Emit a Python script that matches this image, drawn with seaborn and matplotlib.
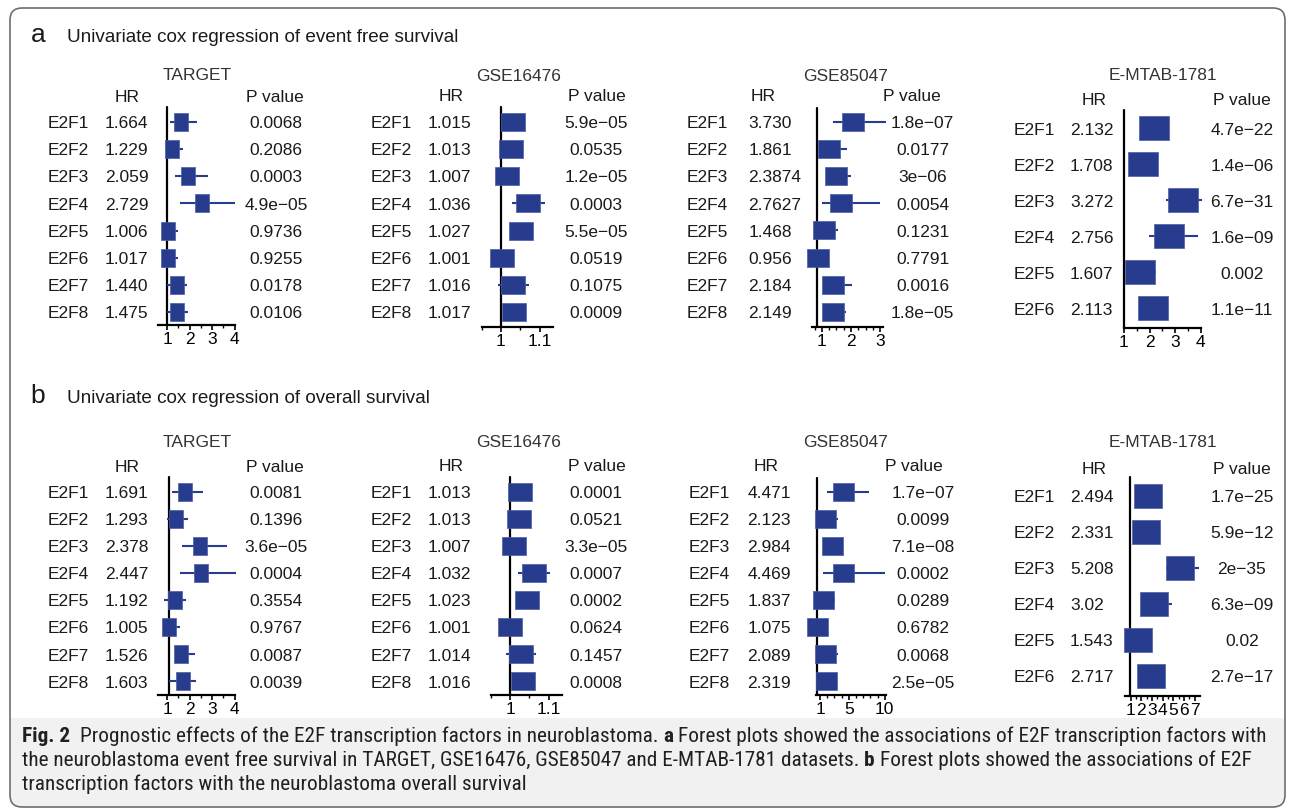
import numpy as np
import pandas as pd
import matplotlib
matplotlib.use("Agg")
import matplotlib.pyplot as plt
import seaborn as sns
from matplotlib import font_manager
from matplotlib.patches import FancyBboxPatch, Rectangle

genes = ["E2F1", "E2F2", "E2F3", "E2F4", "E2F5", "E2F6", "E2F7", "E2F8"]

# a: event free survival  (hr / p are the printed columns, box/lo/hi)
efs_target_hr = ["1.664", "1.229", "2.059", "2.729", "1.006", "1.017", "1.440", "1.475"]
efs_target_p = ["0.0068", "0.2086", "0.0003", "4.9e-05", "0.9736", "0.9255", "0.0178", "0.0106"]
efs_target_box = [1.61, 1.24, 1.95, 2.54, 1.04, 1.06, 1.43, 1.46]
efs_target_lo = [1.13, 0.95, 1.36, 1.58, 0.80, 0.80, 1.00, 1.00]
efs_target_hi = [2.32, 1.70, 2.84, 4.02, 1.48, 1.48, 1.90, 1.95]

efs_g16_hr = ["1.015", "1.013", "1.007", "1.036", "1.027", "1.001", "1.016", "1.017"]
efs_g16_p = ["5.9e-05", "0.0535", "1.2e-05", "0.0003", "5.5e-05", "0.0519", "0.1075", "0.0009"]
efs_g16_box = [1.030, 1.026, 1.015, 1.071, 1.053, 1.002, 1.031, 1.034]
efs_g16_lo = [1.015, 1.012, 1.000, 1.028, 1.040, 0.990, 0.991, 1.020]
efs_g16_hi = [1.045, 1.040, 1.030, 1.115, 1.066, 1.015, 1.073, 1.048]

efs_g85_hr = ["3.730", "1.861", "2.3874", "2.7627", "1.468", "0.956", "2.184", "2.149"]
efs_g85_p = ["1.8e-07", "0.0177", "3e-06", "0.0054", "0.1231", "0.7791", "0.0016", "1.8e-05"]
efs_g85_box = [2.08, 1.25, 1.50, 1.67, 1.07, 0.845, 1.385, 1.385]
efs_g85_lo = [1.39, 0.95, 1.20, 0.99, 0.80, 0.70, 1.10, 1.10]
efs_g85_hi = [3.21, 1.85, 2.00, 3.00, 1.54, 1.00, 2.05, 1.82]

efs_emtab_hr = ["2.132", "1.708", "3.272", "2.756", "1.607", "2.113"]
efs_emtab_p = ["4.7e-22", "1.4e-06", "6.7e-31", "1.6e-09", "0.002", "1.1e-11"]
efs_emtab_box = [2.17, 1.73, 3.31, 2.77, 1.62, 2.14]
efs_emtab_lo = [1.90, 1.50, 2.65, 1.96, 1.30, 1.90]
efs_emtab_hi = [2.45, 2.00, 4.06, 3.91, 2.25, 2.40]

# b: overall survival
os_target_hr = ["1.691", "1.293", "2.378", "2.447", "1.192", "1.005", "1.526", "1.603"]
os_target_p = ["0.0081", "0.1396", "3.6e-05", "0.0004", "0.3554", "0.9767", "0.0087", "0.0039"]
os_target_box = [1.80, 1.38, 2.45, 2.52, 1.36, 1.07, 1.60, 1.69]
os_target_lo = [1.21, 0.99, 1.65, 1.58, 0.88, 0.85, 1.35, 1.09]
os_target_hi = [2.59, 1.92, 3.65, 4.07, 1.84, 1.56, 2.24, 2.29]

os_g16_hr = ["1.013", "1.013", "1.007", "1.032", "1.023", "1.001", "1.014", "1.016"]
os_g16_p = ["0.0001", "0.0521", "3.3e-05", "0.0007", "0.0002", "0.0624", "0.1457", "0.0008"]
os_g16_box = [1.026, 1.023, 1.011, 1.061, 1.045, 0.999, 1.029, 1.034]
os_g16_lo = [1.010, 1.010, 1.000, 1.0215, 1.030, 0.985, 0.990, 1.020]
os_g16_hi = [1.040, 1.035, 1.025, 1.103, 1.060, 1.012, 1.066, 1.048]

os_g85_hr = ["4.471", "2.123", "2.984", "4.469", "1.837", "1.075", "2.089", "2.319"]
os_g85_p = ["1.7e-07", "0.0099", "7.1e-08", "0.0002", "0.0289", "0.6782", "0.0068", "2.5e-05"]
os_g85_box = [4.17, 1.69, 2.69, 4.19, 1.46, 0.58, 1.69, 1.84]
os_g85_lo = [1.93, 1.00, 1.60, 1.46, 0.80, 0.40, 1.00, 1.00]
os_g85_hi = [7.85, 3.55, 4.24, 10.0, 3.08, 1.50, 3.50, 3.00]

os_emtab_hr = ["2.494", "2.331", "5.208", "3.02", "1.543", "2.717"]
os_emtab_p = ["1.7e-25", "5.9e-12", "2e-35", "6.3e-09", "0.02", "2.7e-17"]
os_emtab_box = [2.64, 2.48, 5.65, 3.24, 1.74, 2.92]
os_emtab_lo = [2.20, 2.00, 4.29, 2.50, 1.30, 2.50]
os_emtab_hi = [3.10, 2.90, 7.43, 4.85, 2.20, 3.40]

W, H = 1292, 810
BLUE = "#283c8e"
TXT = "#1a1a1a"
FS = 12.5

sns.set_theme(style="ticks")
plt.rcParams["font.family"] = ["Liberation Sans", "DejaVu Sans"]

fig = plt.figure(figsize=(W / 100, H / 100), dpi=100)
bg = fig.add_axes([0, 0, 1, 1])
bg.set_xlim(0, W)
bg.set_ylim(H, 0)
bg.axis("off")


def put(x, yc, s, size=FS, ha="left", color=TXT, **kw):
    # yc is the visual centre of capitals, in pixels from the top
    return bg.text(x, yc + 0.358 * size * 100 / 72, s, fontsize=size, ha=ha,
                   va="baseline", color=color, **kw)


# frame + caption band
bg.add_patch(FancyBboxPatch((10.5, 700), 1274, 107, boxstyle="round,pad=0,rounding_size=12",
                            fc="#f1f1f2", ec="none", zorder=0))
bg.add_patch(Rectangle((11, 690), 1273, 28, fc="white", ec="none", zorder=0.5))
bg.add_patch(FancyBboxPatch((10, 8), 1275, 799, boxstyle="round,pad=0,rounding_size=12",
                            fc="none", ec="#6e6e6e", lw=1.2, zorder=1))

# section headings
bg.text(30.5, 41.7, "a", fontsize=19, color=TXT, va="baseline")
bg.text(66.7, 41.7, "Univariate cox regression of event free survival", fontsize=13.6, color=TXT, va="baseline")
bg.text(30.5, 403.3, "b", fontsize=19, color=TXT, va="baseline")
bg.text(66.7, 403.3, "Univariate cox regression of overall survival", fontsize=13.6, color=TXT, va="baseline")

col_target = dict(name_x=197, hr_head_x=127, p_head_x=275, lab_x=48, hr_x=105, p_x=276)
col_g16 = dict(name_x=519, hr_head_x=450.7, p_head_x=596.7, lab_x=370.7, hr_x=427.7, p_x=596.2)
col_emtab = dict(name_x=1162.7, hr_head_x=1094, p_head_x=1242.3, lab_x=1013.7, hr_x=1070, p_x=1242)

panels = [
    dict(name="TARGET", **col_target, title_y=74, head_y=96, y0=121.7, dy=27.2, vtop=107, axis_y=325,
         ax_lr=(158, 235), xlim=(0.6, 4.02), vline=1.0, major=[1, 2, 3, 4], labels=["1", "2", "3", "4"],
         minor=[1.5, 2.5, 3.5], box=(13.5, 17.5),
         data=(efs_target_hr, efs_target_p, efs_target_box, efs_target_lo, efs_target_hi)),
    dict(name="GSE16476", **col_g16, title_y=75, head_y=95, y0=121.7, dy=27.2, vtop=106.7, axis_y=326.7,
         ax_lr=(481.7, 552.7), xlim=(0.951, 1.134), vline=1.0, major=[1, 1.1], labels=["1", "1.1"],
         minor=[0.95, 1.05], box=(23.3, 18.3),
         data=(efs_g16_hr, efs_g16_p, efs_g16_box, efs_g16_lo, efs_g16_hi)),
    dict(name="GSE85047", name_x=845.7, hr_head_x=762.7, p_head_x=911.7, lab_x=686.7, hr_x=748.3, p_x=922.7,
         title_y=75, head_y=95, y0=121.7, dy=27.2, vtop=108.3, axis_y=326.7,
         ax_lr=(811.7, 882.7), xlim=(0.645, 3.093), vline=0.817, major=[1, 2, 3], labels=["1", "2", "3"],
         minor=[0.75, 1.25, 1.5, 1.75, 2.25, 2.5, 2.75], box=(21.7, 17.7),
         data=(efs_g85_hr, efs_g85_p, efs_g85_box, efs_g85_lo, efs_g85_hi)),
    dict(name="E-MTAB-1781", **col_emtab, title_y=74, head_y=98.3, y0=128.3, dy=36, vtop=110, axis_y=328.3,
         ax_lr=(1124, 1200.7), xlim=(1.0, 4.0), vline=1.0, major=[1, 2, 3, 4], labels=["1", "2", "3", "4"],
         minor=[1.5, 2.5, 3.5], box=(29.3, 23.3),
         data=(efs_emtab_hr, efs_emtab_p, efs_emtab_box, efs_emtab_lo, efs_emtab_hi)),
    dict(name="TARGET", **col_target, title_y=441, head_y=465.7, y0=491.7, dy=27.1, vtop=477.3, axis_y=695,
         ax_lr=(158, 235), xlim=(0.6, 4.02), vline=1.08, major=[1, 2, 3, 4], labels=["1", "2", "3", "4"],
         minor=[1.5, 2.5, 3.5], box=(13.5, 17.5),
         data=(os_target_hr, os_target_p, os_target_box, os_target_lo, os_target_hi)),
    dict(name="GSE16476", **col_g16, title_y=440.7, head_y=465, y0=491.7, dy=27.1, vtop=477.3, axis_y=695,
         ax_lr=(490.6, 562), xlim=(0.95, 1.134), vline=1.0, major=[1, 1.1], labels=["1", "1.1"],
         minor=[0.95, 1.05], box=(23.3, 18.5),
         data=(os_g16_hr, os_g16_p, os_g16_box, os_g16_lo, os_g16_hi)),
    dict(name="GSE85047", name_x=845.7, hr_head_x=766, p_head_x=914, lab_x=688.3, hr_x=747.3, p_x=923,
         title_y=440.7, head_y=465, y0=491.7, dy=27.1, vtop=478.3, axis_y=695,
         ax_lr=(816, 886), xlim=(0.444, 10.17), vline=0.54, major=[1, 5, 10], labels=["1", "5", "10"],
         minor=[2, 3, 4, 6, 7, 8, 9], box=(21, 18.5),
         data=(os_g85_hr, os_g85_p, os_g85_box, os_g85_lo, os_g85_hi)),
    dict(name="E-MTAB-1781", **col_emtab, title_y=440.7, head_y=467.3, y0=496, dy=36, vtop=477.3, axis_y=696,
         ax_lr=(1125, 1200), xlim=(0.486, 7.495), vline=0.95, major=[1, 2, 3, 4, 5, 6, 7],
         labels=["1", "2", "3", "4", "5", "6", "7"], minor=[1.5, 2.5, 3.5, 4.5, 5.5, 6.5], box=(27.3, 24),
         data=(os_emtab_hr, os_emtab_p, os_emtab_box, os_emtab_lo, os_emtab_hi)),
]

for sp in panels:
    hr, pv, box, lo, hi = sp["data"]
    n = len(hr)
    put(sp["name_x"], sp["title_y"], sp["name"], ha="center", color="#333333")
    put(sp["hr_head_x"], sp["head_y"], "HR", ha="center")
    put(sp["p_head_x"], sp["head_y"], "P value", ha="center")
    for i in range(n):
        yc = sp["y0"] + i * sp["dy"]
        put(sp["lab_x"], yc, genes[i])
        put(sp["hr_x"], yc, hr[i])
        put(sp["p_x"], yc, pv[i].replace("-", "\u2212"), ha="center")

    l, r = sp["ax_lr"]
    t, b = sp["vtop"], sp["axis_y"]
    ax = fig.add_axes([l / W, 1 - b / H, (r - l) / W, (b - t) / H])
    ax.patch.set_alpha(0)
    df = pd.DataFrame({"gene": genes[:n], "row": np.arange(n), "hr": box, "lo": lo, "hi": hi})

    ax.hlines(df["row"], df["lo"], df["hi"], color=BLUE, lw=1.5, clip_on=False, zorder=2)
    w, h = sp["box"]
    m = max(w, h)
    verts = [(-w / 2 / m, -h / 2 / m), (w / 2 / m, -h / 2 / m), (w / 2 / m, h / 2 / m),
             (-w / 2 / m, h / 2 / m), (-w / 2 / m, -h / 2 / m)]
    sns.scatterplot(data=df, x="hr", y="row", marker=verts, s=(m * 0.72) ** 2, color=BLUE,
                    edgecolor="#4a5ca6", linewidth=0.5, legend=False, clip_on=False, zorder=3, ax=ax)

    ax.set_xlim(*sp["xlim"])
    ax.set_ylim((b - sp["y0"]) / sp["dy"], (t - sp["y0"]) / sp["dy"])
    ax.axvline(sp["vline"], color="black", lw=1.6, zorder=1, clip_on=False)
    for s in ["top", "right", "left"]:
        ax.spines[s].set_visible(False)
    ax.spines["bottom"].set_linewidth(1.6)
    ax.spines["bottom"].set_color("black")
    ax.set_yticks([])
    ax.set_xticks(sp["major"], labels=sp["labels"])
    ax.set_xticks(sp["minor"], minor=True)
    ax.tick_params(axis="x", which="major", direction="out", length=3.5, width=1.2, pad=1.5,
                   labelsize=FS, colors="black")
    ax.tick_params(axis="x", which="minor", direction="out", length=2.2, width=1.0, colors="black")
    ax.set_xlabel("")
    ax.set_ylabel("")

# caption, mixed bold/regular runs; pick the narrowest installed face that has both weights
renderer = fig.canvas.get_renderer()


def as_weight(w):
    return font_manager.weight_dict.get(w, w) if isinstance(w, str) else w


regular, boldish = set(), set()
for f in font_manager.fontManager.ttflist:
    if f.style != "normal":
        continue
    wt = as_weight(f.weight)
    if 350 <= wt <= 450:
        regular.add(f.name)
    if wt >= 600:
        boldish.add(f.name)
installed = regular & boldish


def width(s, size, bold, fam):
    t = bg.text(0, 0, s, fontsize=size, family=fam, fontweight="bold" if bold else "normal")
    wd = t.get_window_extent(renderer).width
    t.remove()
    return wd


caption = [
    [("Fig. 2", True, 2), ("Prognostic effects of the E2F transcription factors in neuroblastoma.", False, 1),
     ("a", True, 1), ("Forest plots showed the associations of E2F transcription factors with", False, 0)],
    [("the neuroblastoma event free survival in TARGET, GSE16476, GSE85047 and E-MTAB-1781 datasets.", False, 1),
     ("b", True, 1), ("Forest plots showed the associations of E2F", False, 0)],
    [("transcription factors with the neuroblastoma overall survival", False, 0)],
]


def line_width(runs, size, fam):
    sp = width("a a", size, False, fam) - width("aa", size, False, fam)
    return sum(width(s, size, bd, fam) + g * sp for s, bd, g in runs)


cands = [f for f in ["Liberation Sans Narrow", "Roboto Condensed", "Open Sans Condensed", "DejaVu Sans Condensed",
                     "Lato", "Roboto", "Liberation Sans", "Noto Sans", "DejaVu Sans"] if f in installed]
if not cands:
    cands = ["DejaVu Sans"]
widths = {f: line_width(caption[0], 12, f) for f in cands}
cap_family = min(widths, key=widths.get)
cap_size = 12 * 1242 / widths[cap_family]
space = width("a a", cap_size, False, cap_family) - width("aa", cap_size, False, cap_family)
for runs, base in zip(caption, [741.5, 766, 790.5]):
    x = 22
    for s, bd, g in runs:
        bg.text(x, base, s, fontsize=cap_size, family=cap_family, fontweight="bold" if bd else "normal",
                color="#231f20", va="baseline")
        x += width(s, cap_size, bd, cap_family) + g * space

fig.savefig("out.png", dpi=100)
